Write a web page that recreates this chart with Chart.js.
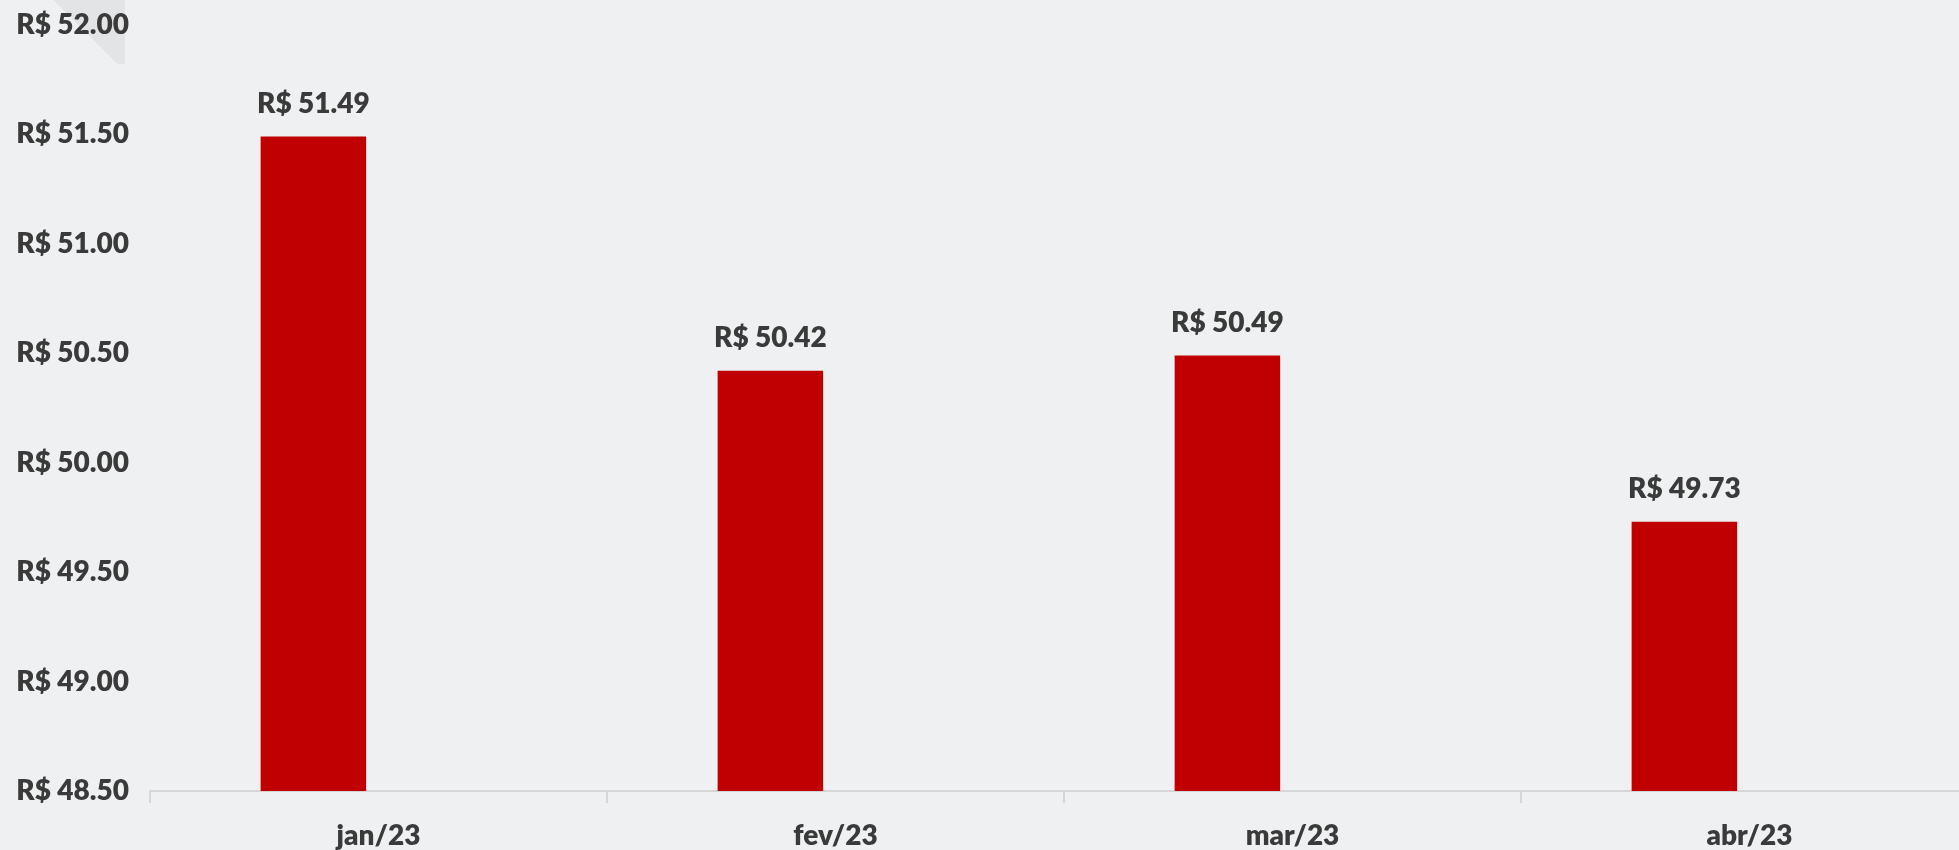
<!DOCTYPE html>
<html>
<head>
<meta charset="utf-8">
<script src="https://cdn.jsdelivr.net/npm/chart.js@4"></script>
<style>
    html, body { margin: 0; padding: 0; overflow: hidden; }
    body {
        width: 1959px; height: 850px;
        background-color: #eef0f2;
        background-image: linear-gradient(45deg, rgba(0,0,0,0) 50%, rgba(0,0,0,0.05) 50%);
        background-size: 80px 64px;
        background-position: 45px 0px;
        background-repeat: no-repeat;
    }
    #wrap { position: absolute; left: 0; top: 0; width: 1978px; height: 860px; }
</style>
</head>
<body>
<div id="wrap"><canvas id="priceChart"></canvas></div>
<script>
    // ----------------------------------------------------
    // DATA
    // ----------------------------------------------------
    const months = ['jan/23', 'fev/23', 'mar/23', 'abr/23'];
    const prices = [51.49, 50.42, 50.49, 49.73];
    const emptySlot = [null, null, null, null]; // empty 2nd series in the original
    const yMin = 48.5;
    const yMax = 52;
    const yStep = 0.5;

    const textColor = '#3a3a3a';
    const barColor = '#c00000';
    const axisColor = '#d6d6d6';
    const fontFamily = "Lato, 'Open Sans', sans-serif";
    const fontSize = 28;
    const fontWeight = '800';

    const money = v => 'R$ ' + Number(v).toFixed(2);

    // value labels above the bars
    const valueLabels = {
        id: 'valueLabels',
        afterDatasetsDraw(chart) {
            const ctx = chart.ctx;
            const meta = chart.getDatasetMeta(0);
            ctx.save();
            ctx.font = `${fontWeight} ${fontSize}px ${fontFamily}`;
            ctx.fillStyle = textColor;
            ctx.textAlign = 'center';
            ctx.textBaseline = 'middle';
            meta.data.forEach((bar, i) => {
                ctx.fillText(money(prices[i]), bar.x, bar.y - 33);
            });
            ctx.restore();
        }
    };

    const ctx = document.getElementById('priceChart').getContext('2d');
    new Chart(ctx, {
        type: 'bar',
        data: {
            labels: months,
            datasets: [
                { label: 'Preço', data: prices, backgroundColor: barColor,
                  barPercentage: 0.81, categoryPercentage: 0.57 },
                { label: '', data: emptySlot, backgroundColor: 'rgba(0,0,0,0)',
                  barPercentage: 0.81, categoryPercentage: 0.57 }
            ]
        },
        options: {
            responsive: true, maintainAspectRatio: false,
            animation: false,
            layout: { padding: { top: 25, right: 0, bottom: 0, left: 0 } },
            plugins: { legend: { display: false }, tooltip: { enabled: false } },
            scales: {
                x: {
                    grid: { display: true, drawOnChartArea: false, drawTicks: true,
                            tickLength: 12, offset: true, color: axisColor, lineWidth: 2 },
                    border: { display: true, color: axisColor, width: 2 },
                    afterFit: s => { s.height = 69; },
                    ticks: { color: textColor, padding: 16,
                             font: { family: fontFamily, size: fontSize, weight: fontWeight } }
                },
                y: {
                    min: yMin, max: yMax,
                    grid: { display: false, drawTicks: false },
                    border: { display: false },
                    afterFit: s => { s.width = 150; s.paddingTop = 0; s.paddingBottom = 0; },
                    ticks: { stepSize: yStep, color: textColor, padding: 21,
                             callback: v => money(v),
                             font: { family: fontFamily, size: fontSize, weight: fontWeight } }
                }
            }
        },
        plugins: [valueLabels]
    });
</script>
</body>
</html>
